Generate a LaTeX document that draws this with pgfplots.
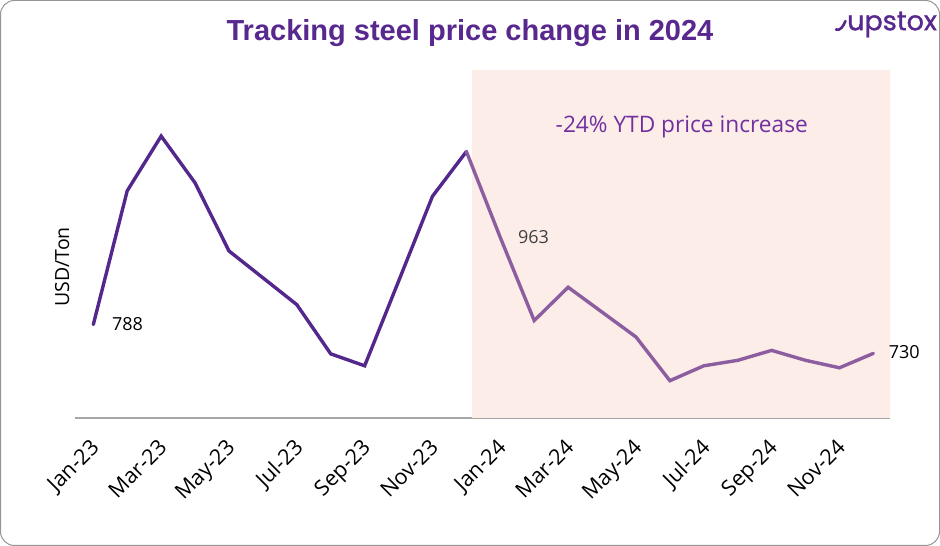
\documentclass[border=0pt]{standalone}
\usepackage{pgfplots}
\pgfplotsset{compat=1.18}
\usepackage{fontspec}
\setmainfont{Open Sans}
\newfontfamily\titlefont{Liberation Sans}
\newfontfamily\logofont[FakeBold=1.2]{Poppins}
\definecolor{titlepurple}{RGB}{88,40,142}
\definecolor{line23}{RGB}{84,39,140}
\definecolor{line24}{RGB}{140,94,160}
\definecolor{annot}{RGB}{112,48,160}
\definecolor{shade}{RGB}{253,237,233}
\definecolor{axgray}{RGB}{166,166,166}
\definecolor{framegray}{RGB}{150,150,150}
\definecolor{lbl}{RGB}{64,64,64}

\pgfplotstableread{
x y
0 788
1 1057
2 1167
3 1073
4 936
5 882
6 828
7 729
8 705
9 875
10 1046
11 1136
}\tabA
\pgfplotstableread{
x y
11 1136
12 963
13 796
14 863
15 813
16 763
17 675
18 705
19 716
20 736
21 716
22 701
23 730
}\tabB

\begin{document}
\begin{tikzpicture}[x=1pt,y=1pt]
\useasboundingbox (0,0) rectangle (940,546);
\draw[framegray, line width=1pt, rounded corners=14pt] (0.5,0.5) rectangle (939.5,545.5);
\node[font=\titlefont\bfseries\fontsize{29}{33}\selectfont, text=titlepurple] at (470,513) {Tracking steel price change in 2024};
\draw[titlepurple, line width=2.6pt, line cap=round] (836,516.5) .. controls (840,515) and (843,519) .. (845.5,525);
\node[font=\logofont\fontsize{27}{30}\selectfont, text=titlepurple, anchor=west, inner sep=0pt] at (847,521.5) {upstox};
\begin{axis}[
  at={(75pt,128pt)}, anchor=south west,
  width=815pt, height=348pt, scale only axis,
  xmin=-0.54, xmax=23.49, ymin=600, ymax=1300,
  axis x line*=bottom, hide y axis,
  x axis line style={-, draw=axgray, line width=1.2pt},
  xtick={0,2,4,6,8,10,12,14,16,18,20,22},
  xticklabels={Jan-23,Mar-23,May-23,Jul-23,Sep-23,Nov-23,Jan-24,Mar-24,May-24,Jul-24,Sep-24,Nov-24},
  xtick style={draw=none},
  xticklabel style={xshift=-4pt, yshift=-18pt, rotate=45, anchor=north east, inner sep=1pt, font=\fontsize{21.5}{24}\selectfont},
  clip=false,
]
\addplot[fill=shade, draw=none] coordinates {(11.17,600) (11.17,1300) (23.49,1300) (23.49,600)} \closedcycle;
\addplot[line23, line width=3.4pt, line join=miter, line cap=round] table[x=x,y=y] {\tabA};
\addplot[line24, line width=3.4pt, line join=miter, line cap=round] table[x=x,y=y] {\tabB};
\node[anchor=west, font=\fontsize{18}{20}\selectfont, text=black] at (axis cs:0.45,788) {788};
\node[anchor=west, font=\fontsize{18}{20}\selectfont, text=lbl] at (axis cs:12.42,963) {963};
\node[anchor=west, font=\fontsize{18}{20}\selectfont, text=black] at (axis cs:23.35,732) {730};
\node[font=\fontsize{22.7}{26}\selectfont, text=annot] at (axis cs:17.35,1186) {-24\% YTD price increase};
\node[rotate=90, font=\fontsize{19.5}{22}\selectfont, text=black] at (axis cs:-0.92,904) {USD/Ton};
\end{axis}
\end{tikzpicture}
\end{document}
